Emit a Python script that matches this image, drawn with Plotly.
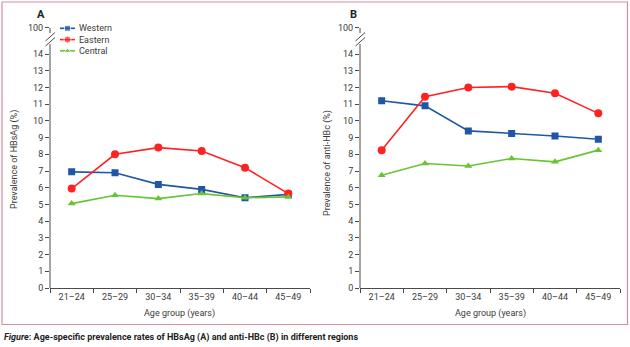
import plotly.graph_objects as go

# Age groups on the x axis
age_groups = ["21–24", "25–29", "30–34", "35–39", "40–44", "45–49"]

# Panel A: prevalence of HBsAg (%)
hbsag_western = [6.95, 6.9, 6.2, 5.9, 5.4, 5.6]
hbsag_eastern = [5.95, 8.0, 8.4, 8.2, 7.2, 5.65]
hbsag_central = [5.05, 5.55, 5.35, 5.65, 5.4, 5.45]

# Panel B: prevalence of anti-HBc (%)
hbc_western = [11.2, 10.9, 9.4, 9.25, 9.1, 8.9]
hbc_eastern = [8.25, 11.45, 12.0, 12.05, 11.65, 10.45]
hbc_central = [6.75, 7.45, 7.3, 7.75, 7.55, 8.25]

region_names = ["Western", "Eastern", "Central"]

# y tick values: 0..14 plus a broken-axis position standing for 100
y_ticks = list(range(0, 15))
y_ticklabels = [str(v) for v in y_ticks]
BREAK_POS = 15.56
y_ticks.append(BREAK_POS)
y_ticklabels.append("100")

W, H = 630, 347
FONT = "Liberation Sans Narrow, Roboto, Arial, sans-serif"
TEXT_COLOR = "#3b3b3b"
AXIS_COLOR = "#4a4a4a"

BLUE = "#1f56a5"
RED = "#ff2222"
GREEN = "#66c533"


def px(x):
    return x / W


def py(y):
    return 1 - y / H


styles = {
    "Western": (BLUE, "square", 7),
    "Eastern": (RED, "circle", 8),
    "Central": (GREEN, "triangle-up", 7),
}
panel_a = {"Western": hbsag_western, "Eastern": hbsag_eastern, "Central": hbsag_central}
panel_b = {"Western": hbc_western, "Eastern": hbc_eastern, "Central": hbc_central}

fig = go.Figure()
for name in region_names:
    color, symbol, size = styles[name]
    for vals, xa, ya in ((panel_a[name], "x", "y"), (panel_b[name], "x2", "y2")):
        fig.add_trace(go.Scatter(
            x=age_groups, y=vals, name=name, mode="lines+markers",
            line=dict(color=color, width=1.6),
            marker=dict(color=color, symbol=symbol, size=size),
            xaxis=xa, yaxis=ya, showlegend=False,
        ))

# Legend keys, drawn on a hidden pixel-space overlay axis
LEG_X0, LEG_X1, LEG_TEXT_X = 60, 75, 77
LEG_ROWS = [28.3, 39.6, 50.8]
for name, row in zip(region_names, LEG_ROWS):
    color, symbol, size = styles[name]
    fig.add_trace(go.Scatter(
        x=[LEG_X0, (LEG_X0 + LEG_X1) / 2, LEG_X1], y=[row, row, row],
        mode="lines+markers", line=dict(color=color, width=1.6),
        marker=dict(color=color, symbol=symbol, size=[0, size - 1, 0]),
        xaxis="x3", yaxis="y3", showlegend=False, hoverinfo="skip",
    ))

y_bottom, y_top_px = 288, 27.3
panel_x = [(50, 310), (360, 620)]

common_x = dict(
    type="category", range=[-0.5, 5.5], showgrid=False, zeroline=False,
    showline=True, linecolor=AXIS_COLOR, linewidth=1,
    ticks="outside", ticklen=4, tickcolor=AXIS_COLOR, tickson="boundaries",
    tickfont=dict(family=FONT, size=9, color=TEXT_COLOR),
    fixedrange=True, automargin=False,
)
common_y = dict(
    range=[0, 15.6], showgrid=False, zeroline=False, showline=False,
    tickmode="array", tickvals=y_ticks, ticktext=y_ticklabels,
    ticks="outside", ticklen=4, tickcolor=AXIS_COLOR,
    tickfont=dict(family=FONT, size=9, color=TEXT_COLOR),
    fixedrange=True, automargin=False,
)
hidden = dict(visible=False, fixedrange=True, automargin=False)

fig.update_layout(
    width=W, height=H,
    margin=dict(l=0, r=0, t=0, b=0, autoexpand=False),
    paper_bgcolor="white", plot_bgcolor="rgba(0,0,0,0)",
    xaxis=dict(domain=[px(panel_x[0][0]), px(panel_x[0][1])], anchor="y", **common_x),
    yaxis=dict(domain=[py(y_bottom), py(y_top_px)], anchor="x", **common_y),
    xaxis2=dict(domain=[px(panel_x[1][0]), px(panel_x[1][1])], anchor="y2", **common_x),
    yaxis2=dict(domain=[py(y_bottom), py(y_top_px)], anchor="x2", **common_y),
    xaxis3=dict(domain=[0, 1], range=[0, W], anchor="y3", **hidden),
    yaxis3=dict(domain=[0, 1], range=[H, 0], anchor="x3", **hidden),
    showlegend=False,
)

shapes = []
# outer frame
shapes.append(dict(type="rect", xref="paper", yref="paper",
                   x0=px(2), x1=px(627.5), y0=py(324.5), y1=py(2),
                   line=dict(color="#d98ca0", width=1.2)))

# broken y axis lines and break slashes for each panel
for (x0, _), yref in zip(panel_x, ["y", "y2"]):
    xl = px(x0)
    shapes.append(dict(type="line", xref="paper", yref=yref, x0=xl, x1=xl,
                       y0=0, y1=14.6, line=dict(color=AXIS_COLOR, width=1)))
    shapes.append(dict(type="line", xref="paper", yref=yref, x0=xl, x1=xl,
                       y0=15.25, y1=BREAK_POS, line=dict(color=AXIS_COLOR, width=1)))
    for dy in (0, 5):
        shapes.append(dict(type="line", xref="paper", yref="paper",
                           x0=px(x0 - 4.5), y0=py(41 + dy),
                           x1=px(x0 + 5), y1=py(32.5 + dy),
                           line=dict(color=AXIS_COLOR, width=1)))

small = dict(family=FONT, size=9, color=TEXT_COLOR)
annotations = [
    dict(text="<b>A</b>", x=px(41), y=py(14), font=dict(family=FONT, size=11, color="#222")),
    dict(text="<b>B</b>", x=px(353), y=py(14), font=dict(family=FONT, size=11, color="#222")),
    dict(text="Prevalence of HBsAg (%)", x=px(14), y=py(160), textangle=-90, font=small),
    dict(text="Prevalence of anti-HBc (%)", x=px(327), y=py(163), textangle=-90, font=small),
    dict(text="Age group (years)", x=px(179), y=py(313), font=small),
    dict(text="Age group (years)", x=px(490), y=py(313), font=small),
    dict(text="<b><i>Figure</i>: Age-specific prevalence rates of HBsAg (A) and anti-HBc (B) in different regions</b>",
         x=px(2), y=py(337), xanchor="left", font=dict(family=FONT, size=9, color="#222")),
]
for name, row in zip(region_names, LEG_ROWS):
    annotations.append(dict(text=name, x=px(LEG_TEXT_X), y=py(row), xanchor="left", font=small))

for a in annotations:
    a.update(xref="paper", yref="paper", showarrow=False)
    a.setdefault("yanchor", "middle")
    a.setdefault("xanchor", "center")

fig.update_layout(shapes=shapes, annotations=annotations)
fig.write_html("out.html")
